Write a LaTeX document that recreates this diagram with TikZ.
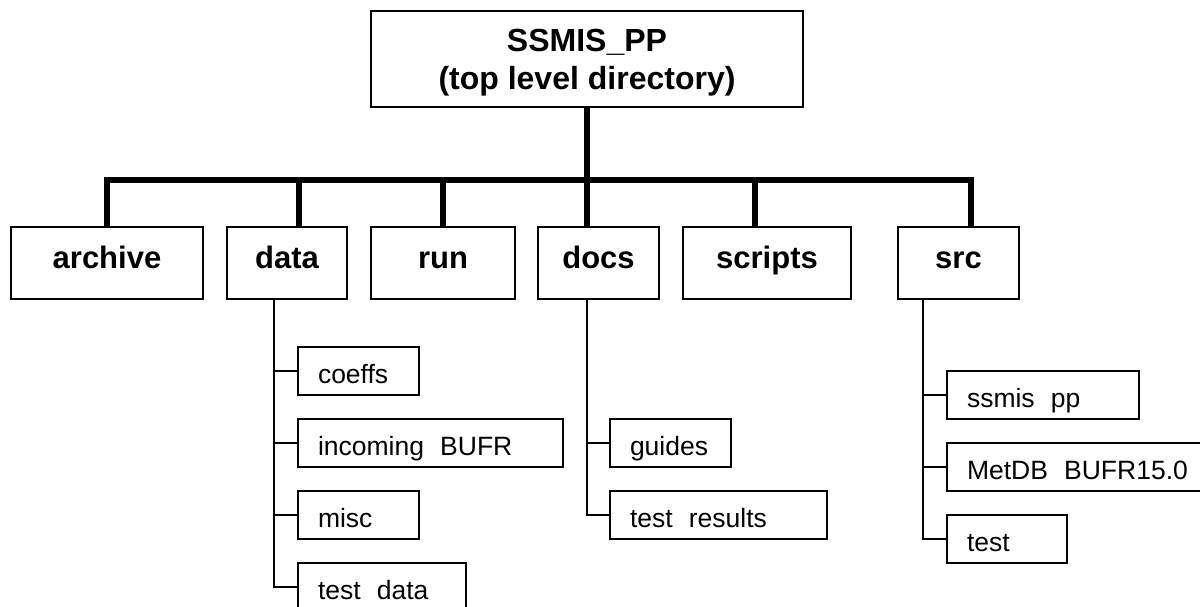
\documentclass[tikz,border=0pt]{standalone}
\usepackage{fontspec}
\setmainfont{Liberation Sans}
\usetikzlibrary{positioning}
\newcommand{\uscore}{\ \kern0.278em}
\tikzset{
  every picture/.style={x=1pt,y=-1pt},
  topbox/.style={draw,line width=1.8pt,inner sep=0pt,outer sep=0pt,minimum width=432pt,minimum height=96pt,
    align=center,text depth=0pt,font=\bfseries\fontsize{32}{38}\selectfont},
  dirbox/.style={draw,line width=1.8pt,inner sep=0pt,outer sep=0pt,minimum height=72pt,
    text height=28pt,text depth=18pt,font=\bfseries\fontsize{31}{36}\selectfont},
  leafbox/.style={draw,line width=1.6pt,inner xsep=20pt,inner ysep=0pt,outer sep=0pt,minimum height=48pt,
    text height=24pt,text depth=0pt,align=left,font=\fontsize{26.5}{30}\selectfont},
  bus/.style={line width=5.5pt},
  branch/.style={line width=1.7pt},
}

\begin{document}
\begin{tikzpicture}[node distance=24pt]
  \useasboundingbox (0,0) rectangle (1200,606);
  \node[topbox] (top) at (587,59) {SSMIS\_PP\\(top level directory)};
  \coordinate (hub) at (587,180);
  \node[dirbox,minimum width=192pt] (archive) at (107,263) {archive};
  \node[dirbox,minimum width=120pt,right=of archive] (data) {data};
  \node[dirbox,minimum width=144pt,right=of data] (run) {run};
  \node[dirbox,minimum width=121pt,right=23pt of run] (docs) {docs};
  \node[dirbox,minimum width=168pt,right=of docs] (scripts) {scripts};
  \node[dirbox,minimum width=121pt,right=47pt of scripts] (src) {src};
  \draw[bus] (top.south) -- (hub);
  \draw[bus] (archive.north) |- (hub) -| ([xshift=12.5pt]src.north);
  \draw[bus] ([xshift=12pt]data.north) -- ([xshift=12pt]data.north |- hub);
  \draw[bus] (run.north) -- (run.north |- hub);
  \draw[bus] (docs.north -| hub) -- (hub);
  \draw[bus] ([xshift=-12pt]scripts.north) -- ([xshift=-12pt]scripts.north |- hub);
  \node[leafbox,text width=81pt,anchor=north west] (coeffs) at (298,347) {coeffs};
  \node[leafbox,text width=225pt,below=of coeffs.south west,anchor=north west] (incoming) {incoming\uscore BUFR};
  \node[leafbox,text width=81pt,below=of incoming.south west,anchor=north west] (misc) {misc};
  \node[leafbox,text width=128pt,below=of misc.south west,anchor=north west] (testdata) {test\uscore data};
  \node[leafbox,text width=81pt,anchor=north west] (guides) at (610,419) {guides};
  \node[leafbox,text width=177pt,below=of guides.south west,anchor=north west] (testresults) {test\uscore results};
  \node[leafbox,text width=152pt,anchor=north west] (ssmispp) at (947,371) {ssmis\uscore pp};
  \node[leafbox,text width=260pt,below=of ssmispp.south west,anchor=north west] (metdb) {MetDB\uscore BUFR15.0};
  \node[leafbox,text width=80pt,below=of metdb.south west,anchor=north west] (srctest) {test};
  \foreach \leaf in {coeffs,incoming,misc,testdata}
    \draw[branch] ([xshift=-13pt]data.south) |- (\leaf.west);
  \foreach \leaf in {guides,testresults}
    \draw[branch] (docs.south -| hub) |- (\leaf.west);
  \foreach \leaf in {ssmispp,metdb,srctest}
    \draw[branch] ([xshift=-35.5pt]src.south) |- (\leaf.west);
\end{tikzpicture}
\end{document}
